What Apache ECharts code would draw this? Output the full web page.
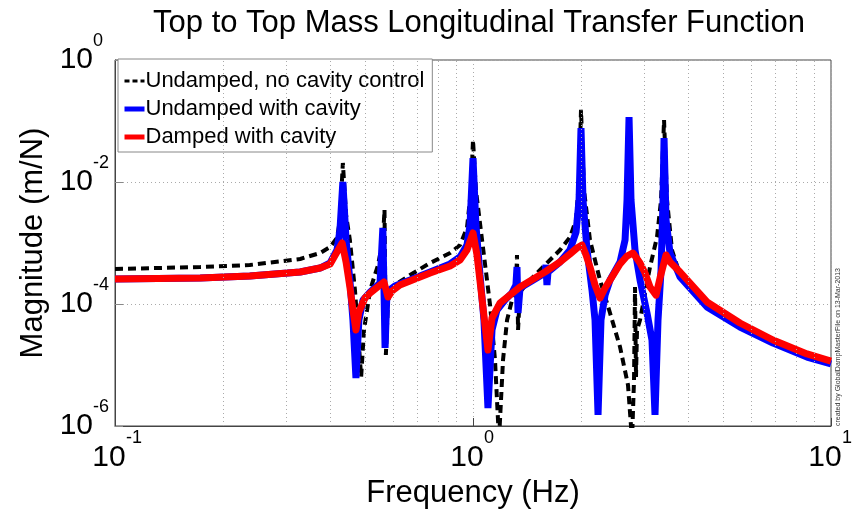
<!DOCTYPE html>
<html>
<head>
<meta charset="utf-8">
<script src="https://cdn.jsdelivr.net/npm/echarts@6/dist/echarts.min.js"></script>
<style>
  html, body { margin: 0; padding: 0; background: #ffffff; }
  #chart { width: 865px; height: 514px; }
</style>
</head>
<body>
<div id="chart"></div>
<script>
// ---- Data (frequency in Hz, magnitude in m/N) ----
const freqUndamped = [0.100, 0.173, 0.238, 0.329, 0.374, 0.399, 0.417, 0.425, 0.433, 0.442, 0.453, 0.468, 0.477, 0.487, 0.496, 0.516, 0.543, 0.560, 0.566, 0.571, 0.579, 0.605, 0.667, 0.759, 0.863, 0.920, 0.962, 0.987, 1.000, 1.019, 1.060, 1.116, 1.152, 1.182, 1.213, 1.245, 1.285, 1.318, 1.327, 1.336, 1.353, 1.443, 1.589, 1.750, 1.866, 1.940, 1.978, 2.003, 2.042, 2.122, 2.263, 2.414, 2.575, 2.710, 2.781, 2.817, 2.835, 2.853, 2.872, 2.928, 3.122, 3.266, 3.352, 3.417, 3.483, 3.596, 3.787, 4.504, 5.569, 6.887, 8.570, 10.0];
const magUndamped  = [3.75e-4, 4.04e-4, 4.36e-4, 5.47e-4, 6.86e-4, 8.60e-4, 1.21e-3, 2.38e-3, 2.05e-2, 2.88e-3, 1.12e-3, 1.70e-4, 3.75e-5, 6.36e-6, 3.75e-5, 1.70e-4, 4.36e-4, 1.12e-3, 3.48e-3, 1.46e-5, 1.16e-4, 2.05e-4, 2.99e-4, 4.70e-4, 6.86e-4, 9.27e-4, 1.76e-3, 7.39e-3, 4.88e-2, 7.39e-3, 1.12e-3, 9.63e-5, 1.21e-5, 5.9e-7, 1.21e-5, 5.47e-5, 1.16e-4, 1.70e-4, 6.36e-4, 3.75e-5, 1.57e-4, 2.47e-4, 4.36e-4, 7.68e-4, 1.25e-3, 2.38e-3, 1.08e-2, 1.52e-1, 7.39e-3, 1.12e-3, 2.47e-4, 7.12e-5, 1.97e-5, 4.70e-6, 5.9e-7, 5.68e-6, 1.90e-4, 6.36e-6, 3.75e-5, 5.47e-5, 4.04e-4, 1.25e-3, 5.07e-3, 1.04e-1, 5.07e-3, 7.68e-4, 2.99e-4, 1.04e-4, 4.70e-5, 2.47e-5, 1.46e-5, 1.16e-5];

const freqCavity = [0.100, 0.173, 0.238, 0.329, 0.374, 0.399, 0.417, 0.425, 0.433, 0.442, 0.453, 0.462, 0.471, 0.480, 0.493, 0.516, 0.550, 0.560, 0.568, 0.575, 0.605, 0.667, 0.759, 0.863, 0.920, 0.962, 0.981, 1.000, 1.019, 1.046, 1.073, 1.101, 1.130, 1.167, 1.228, 1.285, 1.318, 1.327, 1.336, 1.353, 1.443, 1.589, 1.599, 1.609, 1.620, 1.750, 1.866, 1.940, 1.978, 2.003, 2.029, 2.082, 2.150, 2.192, 2.235, 2.278, 2.338, 2.414, 2.575, 2.659, 2.693, 2.728, 2.763, 2.835, 2.928, 3.062, 3.162, 3.224, 3.287, 3.352, 3.395, 3.417, 3.461, 3.551, 3.787, 4.504, 5.569, 6.887, 8.570, 10.0];
const magCavity  = [2.57e-4, 2.67e-4, 2.88e-4, 3.35e-4, 3.89e-4, 4.70e-4, 7.68e-4, 1.63e-3, 1.00e-2, 1.12e-3, 2.47e-4, 5.47e-5, 6.12e-6, 5.47e-5, 1.16e-4, 1.57e-4, 2.21e-4, 1.76e-3, 1.90e-5, 1.57e-4, 1.97e-4, 2.47e-4, 3.35e-4, 4.53e-4, 5.90e-4, 9.27e-4, 1.97e-3, 2.47e-2, 1.97e-3, 2.99e-4, 5.47e-5, 1.97e-6, 3.75e-5, 7.97e-5, 1.16e-4, 1.52e-4, 2.05e-4, 4.04e-4, 7.12e-5, 1.83e-4, 2.29e-4, 3.22e-4, 4.36e-4, 2.05e-4, 3.35e-4, 4.88e-4, 7.68e-4, 1.51e-3, 5.07e-3, 7.68e-2, 5.07e-3, 7.68e-4, 1.70e-4, 5.47e-5, 1.52e-6, 5.47e-5, 1.40e-4, 2.47e-4, 4.88e-4, 1.12e-3, 5.07e-3, 1.16e-1, 5.07e-3, 7.68e-4, 2.47e-4, 7.12e-5, 2.57e-5, 1.52e-6, 5.47e-5, 3.61e-4, 5.07e-3, 5.26e-2, 2.38e-3, 6.86e-4, 2.77e-4, 8.93e-5, 4.20e-5, 2.29e-5, 1.35e-5, 1.04e-5];

const freqDamped = [0.100, 0.173, 0.238, 0.329, 0.374, 0.399, 0.417, 0.431, 0.442, 0.453, 0.462, 0.471, 0.480, 0.499, 0.516, 0.550, 0.564, 0.579, 0.594, 0.625, 0.759, 0.863, 0.920, 0.962, 1.000, 1.026, 1.053, 1.080, 1.101, 1.130, 1.190, 1.269, 1.353, 1.589, 1.750, 1.866, 1.952, 2.016, 2.069, 2.122, 2.192, 2.263, 2.338, 2.414, 2.575, 2.693, 2.799, 2.928, 3.023, 3.122, 3.245, 3.330, 3.461, 3.551, 3.787, 4.504, 5.569, 6.887, 8.570, 10.0];
const magDamped  = [2.57e-4, 2.67e-4, 2.88e-4, 3.35e-4, 3.89e-4, 4.53e-4, 7.12e-4, 1.00e-3, 4.88e-4, 1.90e-4, 7.97e-5, 3.75e-5, 7.39e-5, 1.25e-4, 1.52e-4, 2.05e-4, 2.29e-4, 1.30e-4, 1.63e-4, 2.05e-4, 3.22e-4, 4.20e-4, 5.26e-4, 7.68e-4, 1.46e-3, 6.36e-4, 1.70e-4, 4.53e-5, 1.76e-5, 5.90e-5, 1.04e-4, 1.40e-4, 1.90e-4, 3.35e-4, 4.88e-4, 6.60e-4, 8.28e-4, 9.27e-4, 6.36e-4, 4.04e-4, 2.05e-4, 1.25e-4, 1.83e-4, 2.47e-4, 4.53e-4, 6.12e-4, 6.86e-4, 4.70e-4, 3.22e-4, 1.90e-4, 1.40e-4, 2.67e-4, 6.36e-4, 4.88e-4, 3.35e-4, 1.08e-4, 4.88e-5, 2.57e-5, 1.52e-5, 1.16e-5];

const seriesNames = ['Undamped, no cavity control', 'Undamped with cavity', 'Damped with cavity'];
const xMinorGrid = [0.2, 0.3, 0.4, 0.5, 0.6, 0.7, 0.8, 0.9, 2, 3, 4, 5, 6, 7, 8, 9];
const titleText = 'Top to Top Mass Longitudinal Transfer Function';
const xName = 'Frequency (Hz)';
const yName = 'Magnitude (m/N)';
const creditText = 'created by GlobalDampMasterFile on 13-Mar-2013';

// ---- Chart ----
const FONT = "'Liberation Sans', Arial, Helvetica, sans-serif";
const zip = (xs, ys) => xs.map((x, i) => [x, ys[i]]);
const baseLabel = () => '10';
const expLabel = v => String(Math.round(Math.log10(v)));
const hiddenAxisParts = {
  axisLine: { show: false },
  axisTick: { show: false },
  splitLine: { show: false }
};

const chart = echarts.init(document.getElementById('chart'), null, { renderer: 'canvas' });
chart.setOption({
  animation: false,
  backgroundColor: '#ffffff',
  title: {
    text: titleText,
    left: 474,
    textAlign: 'center',
    top: 3,
    textStyle: { fontSize: 31, fontWeight: 'normal', fontFamily: FONT, color: '#000' }
  },
  grid: { left: 115, right: 34, top: 60, bottom: 88, show: true, borderColor: '#444', borderWidth: 1, backgroundColor: 'transparent' },
  legend: {
    orient: 'vertical',
    left: 118,
    top: 59,
    padding: [11, 8, 4, 4],
    itemGap: 6,
    itemWidth: 20,
    itemHeight: 10,
    backgroundColor: '#fff',
    borderColor: '#888',
    borderWidth: 1,
    borderRadius: 0,
    itemStyle: { opacity: 0 },
    textStyle: { fontSize: 22, fontFamily: FONT, color: '#000', padding: [0, 0, 0, -4] },
    data: [
      { name: seriesNames[0], lineStyle: { width: 3, type: [5, 3] }, itemStyle: { opacity: 0 } },
      { name: seriesNames[1], lineStyle: { width: 5 }, itemStyle: { opacity: 0 } },
      { name: seriesNames[2], lineStyle: { width: 5 }, itemStyle: { opacity: 0 } }
    ]
  },
  xAxis: [
    {
      type: 'log',
      logBase: 10,
      min: 0.1,
      max: 10,
      position: 'bottom',
      name: xName,
      nameLocation: 'middle',
      nameGap: 52,
      nameTextStyle: { fontSize: 31, fontFamily: FONT, color: '#000' },
      axisLine: { show: true, lineStyle: { color: '#444' } },
      axisTick: { show: true, inside: true, length: 8, lineStyle: { color: '#444' } },
      axisLabel: { formatter: baseLabel, fontSize: 30, fontFamily: FONT, color: '#000', margin: 17, padding: [0, 12, 0, 0] },
      splitLine: { show: true, lineStyle: { color: '#aaa', type: [1, 3], width: 1 } },
      minorTick: { show: false }
    },
    Object.assign({
      type: 'log',
      logBase: 10,
      min: 0.1,
      max: 10,
      position: 'bottom',
      axisLabel: { formatter: expLabel, fontSize: 18, fontFamily: FONT, color: '#000', margin: 3, align: 'left', padding: [0, 0, 0, 11] }
    }, hiddenAxisParts)
  ],
  yAxis: [
    {
      type: 'log',
      logBase: 10,
      min: 1e-6,
      max: 1,
      interval: 2,
      position: 'left',
      name: yName,
      nameLocation: 'middle',
      nameGap: 62,
      nameRotate: 90,
      nameTextStyle: { fontSize: 31, fontFamily: FONT, color: '#000' },
      axisLine: { show: true, lineStyle: { color: '#444' } },
      axisTick: { show: true, inside: true, length: 8, lineStyle: { color: '#888' } },
      axisLabel: { formatter: baseLabel, fontSize: 30, fontFamily: FONT, color: '#000', margin: 22 },
      splitLine: { show: true, lineStyle: { color: '#aaa', type: [1, 3], width: 1 } }
    },
    Object.assign({
      type: 'log',
      logBase: 10,
      min: 1e-6,
      max: 1,
      interval: 2,
      position: 'left',
      axisLabel: { formatter: expLabel, fontSize: 18, fontFamily: FONT, color: '#000', margin: 22, align: 'left', verticalAlign: 'bottom', padding: [0, 0, 10, 0] }
    }, hiddenAxisParts)
  ],
  graphic: [{
    type: 'text',
    x: 838,
    y: 426,
    rotation: Math.PI / 2,
    style: { text: creditText, fontSize: 7, fontFamily: FONT, fill: '#333', align: 'left', verticalAlign: 'middle' }
  }],
  series: [
    {
      name: '_grid',
      type: 'line',
      data: [],
      z: 1,
      silent: true,
      markLine: {
        silent: true,
        symbol: 'none',
        label: { show: false },
        lineStyle: { color: '#aaa', type: [1, 3], width: 1 },
        data: xMinorGrid.map(v => ({ xAxis: v }))
      }
    },
    {
      name: seriesNames[0],
      type: 'line',
      data: zip(freqUndamped, magUndamped),
      showSymbol: false,
      symbol: 'none',
      color: '#000000',
      lineStyle: { color: '#000000', width: 4, type: [8, 5] }
    },
    {
      name: seriesNames[1],
      type: 'line',
      data: zip(freqCavity, magCavity),
      showSymbol: false,
      symbol: 'none',
      color: '#0000ff',
      lineStyle: { color: '#0000ff', width: 7 }
    },
    {
      name: seriesNames[2],
      type: 'line',
      data: zip(freqDamped, magDamped),
      showSymbol: false,
      symbol: 'none',
      color: '#ff0000',
      lineStyle: { color: '#ff0000', width: 7, join: 'round' }
    }
  ]
});
</script>
</body>
</html>
